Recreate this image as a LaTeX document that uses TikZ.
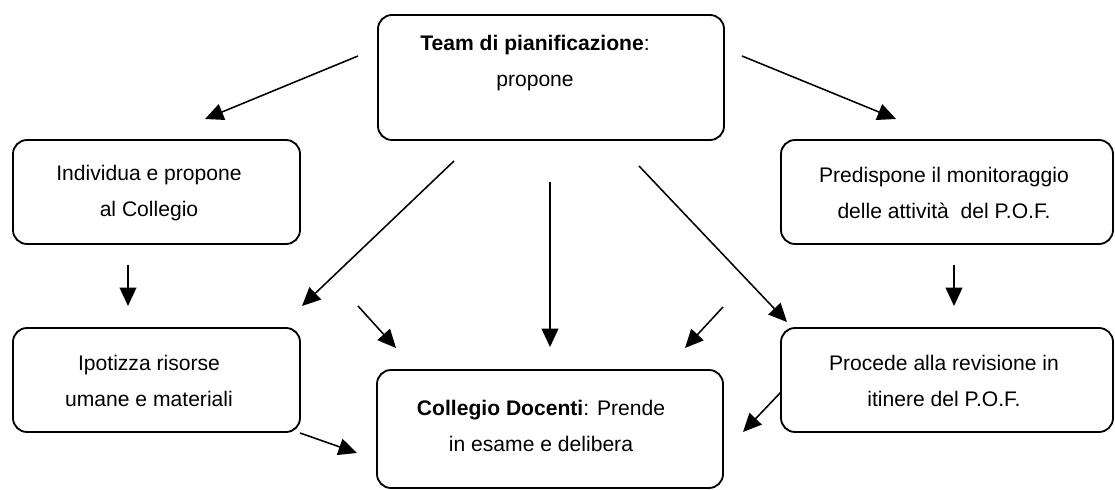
\documentclass[tikz,border=0pt]{standalone}
\usepackage{fontspec}
\setmainfont{Liberation Sans}
\usetikzlibrary{arrows.meta}

\begin{document}
\begin{tikzpicture}[
    x=0.025cm, y=-0.025cm,
    arrowstyle/.style={draw, line width=1.1pt,
        -{Triangle[length=0.46cm, width=0.42cm]}},
    block/.style={rectangle, draw, line width=1.3pt, rounded corners=3.5mm,
        inner sep=0pt},
    blocktext/.style={align=center, inner sep=0pt,
        font=\fontsize{15}{26}\selectfont}
]
\useasboundingbox (0,0) rectangle (1115,490);

% boxes
\node (Team) [block, minimum width=346*0.025cm, minimum height=125*0.025cm] at (551,77.5) {};
\node (Individua) [block, minimum width=287*0.025cm, minimum height=104*0.025cm] at (156.5,192) {};
\node (Ipotizza) [block, minimum width=287*0.025cm, minimum height=104*0.025cm] at (156.5,380) {};
\node (Collegio) [block, minimum width=346*0.025cm, minimum height=118*0.025cm] at (550,429) {};
\node (Predispone) [block, minimum width=332*0.025cm, minimum height=104*0.025cm] at (947,192) {};
\node (Procede) [block, minimum width=332*0.025cm, minimum height=104*0.025cm] at (947,380) {};

% texts
\node (TeamText) [blocktext] at (535,63) {\textbf{Team di pianificazione}:\\propone};
\node (IndividuaText) [blocktext] at (149,193) {Individua e propone\\al Collegio};
\node (IpotizzaText) [blocktext] at (149,381) {Ipotizza risorse\\umane e materiali};
\node (CollegioText) [blocktext] at (541,426) {\textbf{Collegio Docenti}: Prende\\in esame e delibera};
\node (PredisponeText) [blocktext] at (944,193) {Predispone il monitoraggio\\delle attivit\`a\ \ del P.O.F.};
\node (ProcedeText) [blocktext] at (944,381) {Procede alla revisione in\\itinere del P.O.F.};

% arrow ends
\coordinate (Start01) at (358,56);   \coordinate (End01) at (205,119);
\coordinate (Start02) at (742,56);   \coordinate (End02) at (896,119);
\coordinate (Start03) at (454,161);  \coordinate (End03) at (302,306);
\coordinate (Start04) at (550,182);  \coordinate (End04) at (550,347);
\coordinate (Start05) at (639,166);  \coordinate (End05) at (787,322);
\coordinate (Start06) at (128,265);  \coordinate (End06) at (128,306);
\coordinate (Start07) at (954,265);  \coordinate (End07) at (954,306);
\coordinate (Start08) at (358,306);  \coordinate (End08) at (396,348);
\coordinate (Start09) at (723,307);  \coordinate (End09) at (685,348);
\coordinate (Start10) at (300,433);  \coordinate (End10) at (357,453);
\coordinate (Start11) at (781,392);  \coordinate (End11) at (743,432);

\foreach \i in {01,02,03,04,05,06,07,08,09,10,11}
  \draw[arrowstyle] (Start\i) -- (End\i);

\end{tikzpicture}
\end{document}
